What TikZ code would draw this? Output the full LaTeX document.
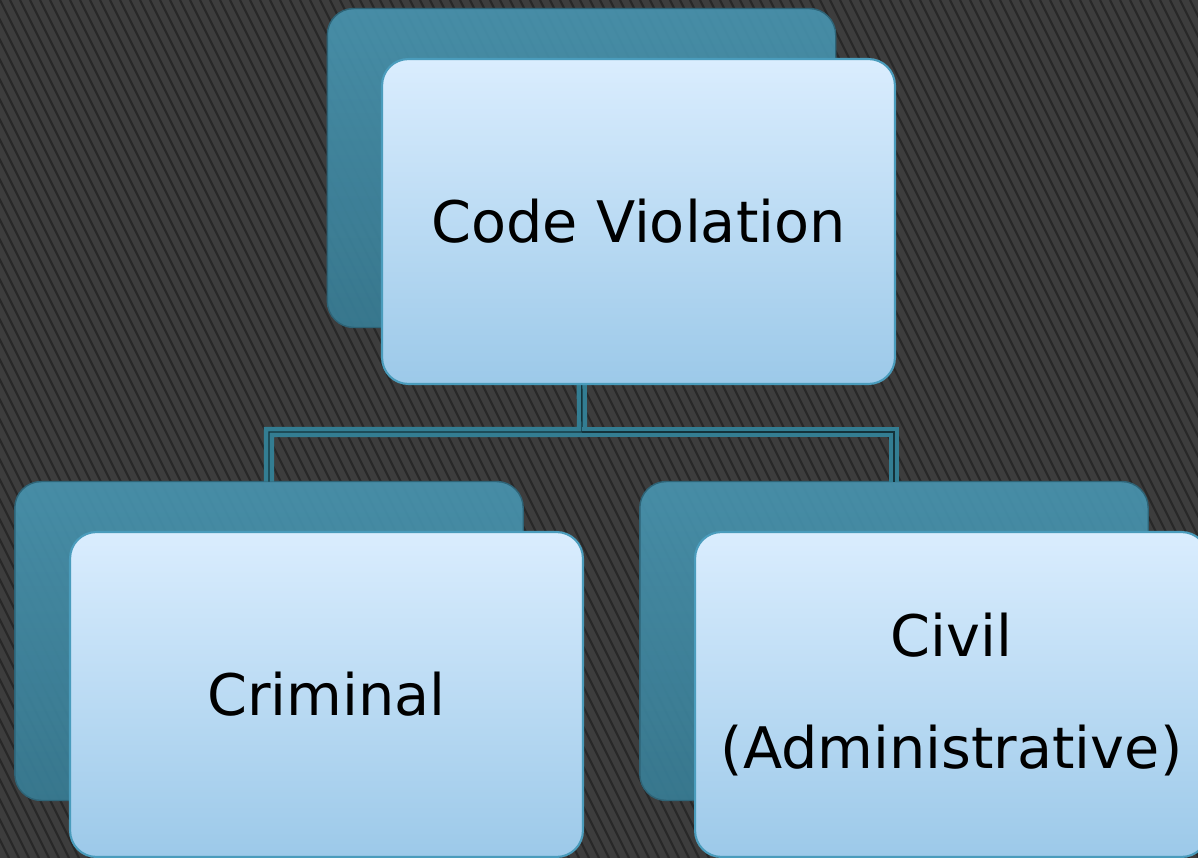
\documentclass[tikz,border=0pt]{standalone}
\usepackage{fontspec}
\newfontfamily\boxfont{DejaVu Sans}
\definecolor{bgdark}{HTML}{3D3D3D}
\definecolor{bgstripe}{HTML}{282828}
\definecolor{tealtop}{HTML}{4893AE}
\definecolor{tealbot}{HTML}{387C94}
\definecolor{tealedge}{HTML}{2E6376}
\definecolor{paletop}{HTML}{DAEDFE}
\definecolor{palebot}{HTML}{9CC9E9}
\definecolor{paleedge}{HTML}{4A9CBC}
\definecolor{linkteal}{HTML}{337D92}

\begin{document}
\begin{tikzpicture}[
  x=0.02cm,y=-0.02cm,
  stripe/.style={bgstripe,line width=1.2pt},
  backbox/.style={rectangle,rounded corners=15pt,inner sep=0pt,outer sep=0pt,
    top color=tealtop,bottom color=tealbot,draw=tealedge,line width=0.8pt,
    fill opacity=0.93,minimum width=10.17cm,minimum height=6.38cm},
  frontbox/.style={rectangle,rounded corners=15pt,inner sep=0pt,outer sep=0pt,
    top color=paletop,bottom color=palebot,draw=paleedge,line width=1.2pt,
    minimum width=10.26cm,minimum height=6.5cm,align=center,
    font=\boxfont\fontsize{32.6}{64}\selectfont},
  link/.style={draw=linkteal,line width=2.5pt,double=linkteal!40!black,
    double distance=0.8pt}]
  % background and its stripes
  \fill[bgdark] (0,0) rectangle (1198,858);
  \begin{scope}
    \clip (0,0) rectangle (1198,858);
    \foreach \x in {-440,-430,...,1200}
      \draw[stripe] (\x,0) -- ++(429,858);
  \end{scope}
  \useasboundingbox (0,0) rectangle (1198,858);

% back boxes
  \node[backbox] (cvback)   at (581.5,168) {};
  \node[backbox] (crimback) at (269,641) {};
  \node[backbox] (civback)  at (894,641) {};

% connectors
  \coordinate (split) at (582,432);
  \draw[link] (cvback.south) -- (split) -| (crimback.north);
  \draw[link] (split) -| (civback.north);

% front boxes
  \node[frontbox] (cv)   at (638.5,221.5) {Code Violation};
  \node[frontbox] (crim) at (326.5,694.5) {Criminal};
  \node[frontbox] (civ)  at (951.5,694.5) {Civil\\(Administrative)};
\end{tikzpicture}
\end{document}
